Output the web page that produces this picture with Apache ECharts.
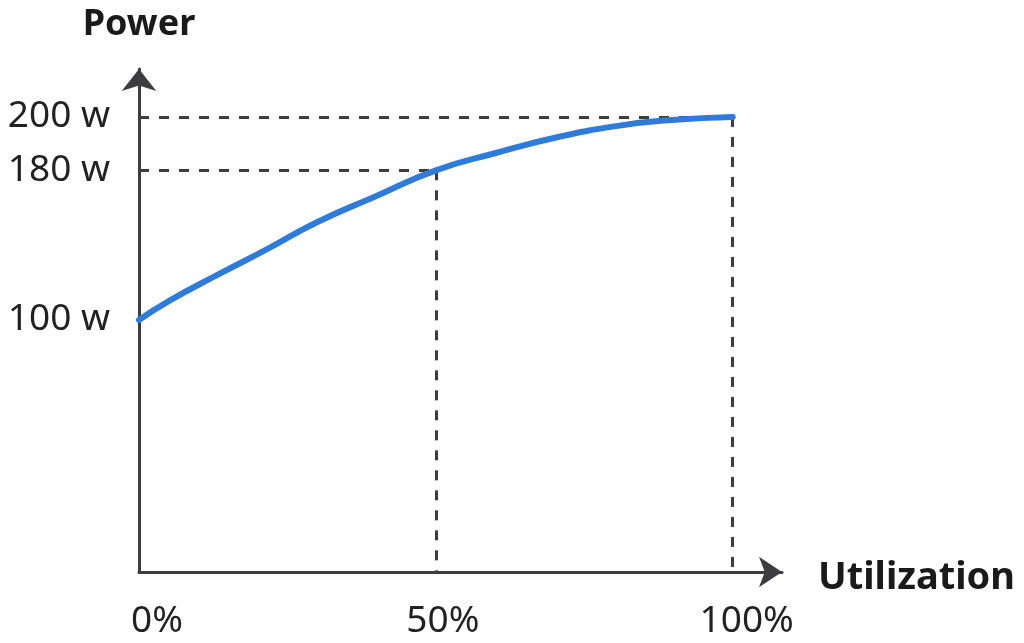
<!DOCTYPE html>
<html>
<head>
<meta charset="utf-8">
<script src="https://cdn.jsdelivr.net/npm/echarts@6/dist/echarts.min.js"></script>
<style>
html,body{margin:0;padding:0;background:#fff;}
#c{width:1024px;height:643px;}
</style>
</head>
<body>
<div id="c"></div>
<script>
// Data (utilization in %, power in watts)
var utilization = [0, 5, 13.2, 21.5, 29.8, 39.7, 50, 60.1, 70.6, 81, 89.7, 100];
var power = [100, 112.5, 128.5, 142.8, 156.5, 168.7, 180, 186.9, 192.9, 197.0, 198.95, 200];
var xTicks = [0, 50, 100];
var xTickLabels = ['0%', '50%', '100%'];
var yTicks = [100, 180, 200];
var yTickLabels = ['100 w', '180 w', '200 w'];
var refPoints = [[50, 180], [100, 200]];
var xName = 'Utilization';
var yName = 'Power';

// The schematic's vertical axis is compressed towards the top; it is drawn
// as a (reversed) log scale of the headroom below a 300 W reference.
var REF = 300;
function toAxis(w) { return REF - w; }
var Y_AXIS_MIN = 84.9, Y_AXIS_MAX = 473;   // axis extent in headroom units
var X_MIN = 0, X_MAX = 108.3;

var axisColor = '#3c3c41';
var FONT = '"Noto Sans", "Open Sans", sans-serif';

var seriesData = utilization.map(function (u, i) { return [u, toAxis(power[i])]; });

var markLines = [];
refPoints.forEach(function (p) {
  markLines.push([{ coord: [X_MIN, toAxis(p[1])] }, { coord: [p[0], toAxis(p[1])] }]);
  markLines.push([{ coord: [p[0], toAxis(p[1])] }, { coord: [p[0], Y_AXIS_MAX] }]);
});

var xPad = [36, 14, 28];
var rich = {};
xTickLabels.forEach(function (l, i) {
  rich['x' + i] = { fontSize: 37, fontFamily: FONT, color: '#222', padding: [0, 0, 0, xPad[i]] };
});
var yTickAxis = yTicks.map(toAxis);

var chart = echarts.init(document.getElementById('c'), null, { renderer: 'canvas' });
chart.setOption({
  animation: false,
  backgroundColor: '#fff',
  grid: { left: 139, right: 242, top: 69, bottom: 71, containLabel: false },
  xAxis: {
    type: 'value', min: X_MIN, max: X_MAX,
    name: '{n|' + xName + '}', nameLocation: 'end', nameGap: 36,
    nameTextStyle: {
      verticalAlign: 'middle',
      rich: { n: { fontSize: 38, fontWeight: 'bold', fontFamily: FONT, color: '#1a1a1a', padding: [12, 0, 0, 0] } }
    },
    axisLine: { onZero: false, lineStyle: { color: axisColor, width: 3 }, symbol: ['none', 'arrow'], symbolSize: [23, 23] },
    axisTick: { show: false },
    splitLine: { show: false },
    axisLabel: {
      customValues: xTicks, margin: 31,
      formatter: function (v) { var i = xTicks.indexOf(v); return '{x' + i + '|' + xTickLabels[i] + '}'; },
      rich: rich
    }
  },
  yAxis: {
    type: 'log', logBase: 10, inverse: true, min: Y_AXIS_MIN, max: Y_AXIS_MAX,
    name: yName, nameLocation: 'start', nameGap: 26,
    nameTextStyle: { fontSize: 36, fontWeight: 'bold', fontFamily: FONT, color: '#1a1a1a', align: 'center', verticalAlign: 'bottom' },
    axisLine: { onZero: false, lineStyle: { color: axisColor, width: 3 }, symbol: ['none', 'arrow'], symbolSize: [26, 22] },
    axisTick: { show: false },
    splitLine: { show: false },
    axisLabel: {
      customValues: yTickAxis, margin: 29, fontSize: 37, fontFamily: FONT, color: '#222',
      formatter: function (v) {
        var w = REF - v, best = 0;
        yTicks.forEach(function (t, i) { if (Math.abs(t - w) < Math.abs(yTicks[best] - w)) best = i; });
        return yTickLabels[best];
      }
    }
  },
  series: [{
    type: 'line',
    data: seriesData,
    smooth: 0.5,
    symbol: 'none',
    lineStyle: { color: '#2e7bd9', width: 6, cap: 'round' },
    z: 3,
    markLine: {
      silent: true, symbol: ['none', 'none'], label: { show: false },
      lineStyle: { color: axisColor, width: 3, type: [10, 10], opacity: 1 },
      emphasis: { disabled: true },
      data: markLines,
      z: 1
    }
  }]
});
</script>
</body>
</html>
